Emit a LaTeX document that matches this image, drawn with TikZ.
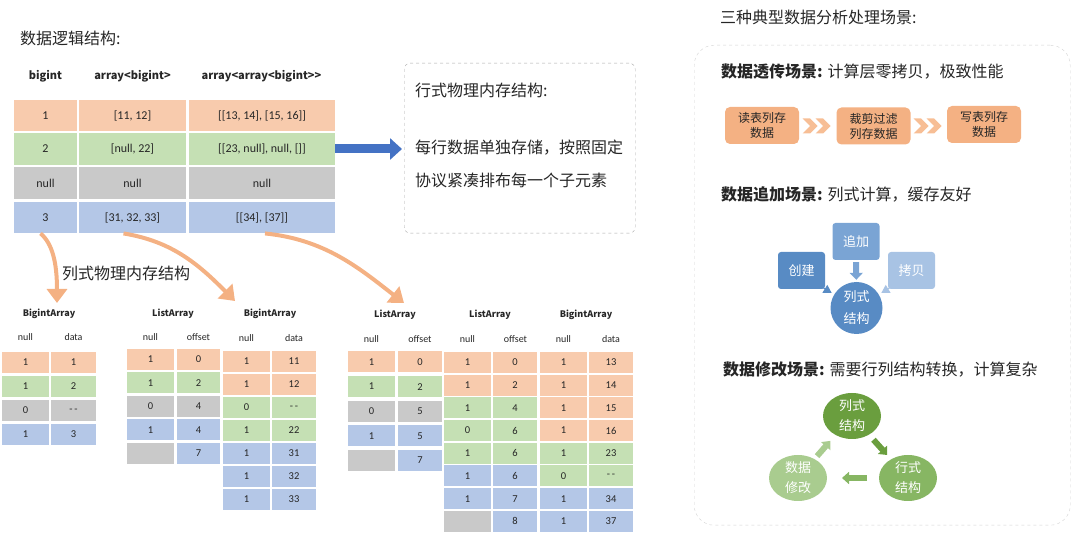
\documentclass[tikz,border=0pt]{standalone}
\usepackage{fontspec}
\setmainfont{Carlito}
\newfontfamily\cjk{Noto Sans CJK SC}
\usetikzlibrary{shapes, arrows.meta, positioning, calc}

\definecolor{cor}{HTML}{F8CBAD}
\definecolor{cgr}{HTML}{C5E0B4}
\definecolor{cgy}{HTML}{C9C9C9}
\definecolor{cbl}{HTML}{B4C7E7}
\definecolor{carr}{HTML}{F4B183}
\definecolor{cblue}{HTML}{4472C4}
\definecolor{cdash}{HTML}{A6A6A6}
\definecolor{cobox}{HTML}{F4B183}
\definecolor{cchev}{HTML}{F7BE95}
\definecolor{cb1}{HTML}{588BC4}
\definecolor{cb2}{HTML}{7AA4D4}
\definecolor{cb3}{HTML}{A8C3E4}
\definecolor{cg1}{HTML}{6A9E3E}
\definecolor{cg2}{HTML}{87B663}
\definecolor{cg3}{HTML}{A9CC8F}
\newcommand{\dsh}{-\,-}

\begin{document}
\begin{tikzpicture}[x=1pt, y=-1pt, text=black!85,
	txt/.style={font=\cjk\fontsize{16}{19}\selectfont, inner sep=0pt, anchor=west},
	hdr/.style={font=\cjk\bfseries\fontsize{11}{13}\selectfont, inner sep=0pt},
	big/.style={inner sep=0pt, minimum height=31.5, font=\fontsize{12}{14}\selectfont},
	cell/.style={inner sep=0pt, minimum height=21, font=\fontsize{10.5}{12}\selectfont},
	ttl/.style={font=\cjk\bfseries\fontsize{9}{11}\selectfont, inner sep=0pt},
	sub/.style={font=\fontsize{10}{12}\selectfont, inner sep=0pt},
	oarr/.style={carr, line width=4, -{Triangle[length=14pt, width=20pt]}},
	obox/.style={fill=cobox, rounded corners=5, minimum width=74, minimum height=37, align=center, font=\cjk\fontsize{12}{15}\selectfont},
	chev/.style={signal, signal from=west, signal to=east, fill=cchev, inner sep=0pt, minimum width=13, minimum height=15},
	bbox/.style={rounded corners=3, minimum width=47, minimum height=37, text=white, font=\cjk\fontsize{13}{16}\selectfont},
	barr/.style={line width=6, -{Triangle[length=7pt, width=13pt]}},
	gell/.style={ellipse, inner sep=0pt, minimum width=58, minimum height=46, text=white, align=center, font=\cjk\fontsize{13}{20}\selectfont},
	garr/.style={line width=6, -{Triangle[length=7pt, width=12pt]}}]
	\useasboundingbox (0,0) rectangle (1080,534);

	% logical structure
	\node[txt] (ltitle) at (20,38) {数据逻辑结构:};
	\node[hdr] (h1) at (45.5,76) {bigint};
	\node[hdr] (h2) at (132.5,76) {array<bigint>};
	\node[hdr] (h3) at (261.5,76) {array<array<bigint>>};
	\foreach \y/\c/\va/\vb/\vc [count=\i] in {115.5/cor/1/{[11, 12]}/{[[13, 14], [15, 16]]}, 149/cgr/2/{[null, 22]}/{[[23, null], null, []]}, 183/cgy/null/null/null, 217.5/cbl/3/{[31, 32, 33]}/{[[34], [37]]}} {
		\node[big, fill=\c, minimum width=63] (ta\i) at (45.5,\y) {\va};
		\node[big, fill=\c, minimum width=107] (tb\i) at (132.5,\y) {\vb};
		\node[big, fill=\c, minimum width=146] (tc\i) at (262,\y) {\vc};
	}

	% row layout
	\node[draw=cdash, dashed, rounded corners=6, minimum width=231, minimum height=170, anchor=north west] (rowbox) at (404,63) {};
	\node[txt] (rowttl) at (415,90) {行式物理内存结构:};
	\node[txt] (rowl1) at (415,148) {每行数据单独存储，按照固定};
	\node[txt] (rowl2) at (415,180) {协议紧凑排布每一个子元素};
	\draw[cblue, line width=9, -{Triangle[length=12pt, width=21pt]}, shorten >=2] (tc2.east) -- (tc2.east -| rowbox.west);

	% column layout
	\coordinate (tip1) at (57,303);
	\coordinate (tip2) at (235,301);
	\coordinate (tip3) at (404,303);
	\draw[oarr] ([xshift=-5]ta4.south) .. controls +(12,10) and +(0,-40) .. (tip1);
	\draw[oarr] ([xshift=-9]tb4.south) .. controls +(50,8) and +(-35,-35) .. (tip2);
	\draw[oarr] ([xshift=3]tc4.south) .. controls +(60,6) and +(-45,-35) .. (tip3);
	\node[txt] (collbl) at (62,273) {列式物理内存结构};

	\node[ttl] (ba) at (49,314) {BigintArray};
	\node[sub] (ban) at (25.5,337) {null};
	\node[sub] (bad) at (73.5,337) {data};
	\foreach \c/\n/\v [count=\i] in {cor/1/1, cgr/1/2, cgy/0/\dsh, cbl/1/3} {
		\node[cell, fill=\c, minimum width=47] (ba\i n) at (25.5,{362.5+(\i-1)*24}) {\n};
		\node[cell, fill=\c, minimum width=45] (ba\i v) at (73.5,{362.5+(\i-1)*24}) {\v};
	}

	\node[ttl] (la) at (173,314) {ListArray};
	\node[sub] (lan) at (150.5,337) {null};
	\node[sub] (lao) at (198.5,337) {offset};
	\foreach \c/\d/\n/\v [count=\i] in {cor/cor/1/0, cgr/cgr/1/2, cgy/cgy/0/4, cbl/cbl/1/4, cgy/cbl/{}/7} {
		\node[cell, fill=\c, minimum width=47] (la\i n) at (150.5,{359.5+(\i-1)*23.5}) {\n};
		\node[cell, fill=\d, minimum width=43] (la\i v) at (198.5,{359.5+(\i-1)*23.5}) {\v};
	}

	\node[ttl] (bb) at (270,314) {BigintArray};
	\node[sub] (bbn) at (246.5,338) {null};
	\node[sub] (bbd) at (294,338) {data};
	\foreach \c/\n/\v [count=\i] in {cor/1/11, cor/1/12, cgr/0/\dsh, cgr/1/22, cbl/1/31, cbl/1/32, cbl/1/33} {
		\node[cell, fill=\c, minimum width=47] (bb\i n) at (246.5,{361.5+(\i-1)*23}) {\n};
		\node[cell, fill=\c, minimum width=44] (bb\i v) at (294,{361.5+(\i-1)*23}) {\v};
	}

	\node[ttl] (lb) at (395,315) {ListArray};
	\node[sub] (lbn) at (371.5,339) {null};
	\node[sub] (lbo) at (420,339) {offset};
	\foreach \c/\d/\n/\v [count=\i] in {cor/cor/1/0, cgr/cgr/1/2, cgy/cgy/0/5, cbl/cbl/1/5, cgy/cbl/{}/7} {
		\node[cell, fill=\c, minimum width=47] (lb\i n) at (371.5,{362+(\i-1)*24.6}) {\n};
		\node[cell, fill=\d, minimum width=44] (lb\i v) at (420,{362+(\i-1)*24.6}) {\v};
	}

	\node[ttl] (lc) at (490,315) {ListArray};
	\node[sub] (lcn) at (467.5,339) {null};
	\node[sub] (lco) at (515.5,339) {offset};
	\foreach \c/\d/\n/\v [count=\i] in {cor/cor/1/0, cor/cor/1/2, cgr/cgr/1/4, cgr/cgr/0/6, cgr/cgr/1/6, cbl/cbl/1/6, cbl/cbl/1/7, cgy/cbl/{}/8} {
		\node[cell, fill=\c, minimum width=47] (lc\i n) at (467.5,{362.5+(\i-1)*22.7}) {\n};
		\node[cell, fill=\d, minimum width=44] (lc\i v) at (515,{362.5+(\i-1)*22.7}) {\v};
	}

	\node[ttl] (bc) at (586,315) {BigintArray};
	\node[sub] (bcn) at (563.5,339) {null};
	\node[sub] (bcd) at (611,339) {data};
	\foreach \c/\n/\v [count=\i] in {cor/1/13, cor/1/14, cor/1/15, cor/1/16, cgr/1/23, cgr/0/\dsh, cbl/1/34, cbl/1/37} {
		\node[cell, fill=\c, minimum width=47] (bc\i n) at (563.5,{362.5+(\i-1)*22.7}) {\n};
		\node[cell, fill=\c, minimum width=44] (bc\i v) at (611,{362.5+(\i-1)*22.7}) {\v};
	}

	% scenarios
	\node[txt] (rtitle) at (720,17) {三种典型数据分析处理场景:};
	\node[draw=cdash!50, dashed, rounded corners=20, minimum width=376, minimum height=480, anchor=north west] (panel) at (694,45) {};

	\node[txt] (s1) at (721,72) {\bfseries 数据透传场景: \mdseries 计算层零拷贝，极致性能};
	\node[obox] (rd) at (762,125.5) {读表列存\\数据};
	\node[obox] (cut) at (873.5,126) {裁剪过滤\\列存数据};
	\node[obox] (wr) at (984,124.5) {写表列存\\数据};
	\node[chev] (ch1) at (810,126) {};
	\node[chev] (ch2) at (823,126) {};
	\node[chev] (ch3) at (921,126) {};
	\node[chev] (ch4) at (934,126) {};

	\node[txt] (s2) at (721,194) {\bfseries 数据追加场景: \mdseries 列式计算，缓存友好};
	\node[bbox, fill=cb2] (add) at (856,241.5) {追加};
	\node[bbox, fill=cb1] (mk) at (801.5,270.5) {创建};
	\node[bbox, fill=cb3] (cp) at (911.5,270.5) {拷贝};
	\node[circle, fill=cb1, minimum size=52, inner sep=0pt, text=white, align=center, font=\cjk\fontsize{13}{22}\selectfont] (col) at (856.5,308) {列式\\结构};
	\draw[barr, cb2, shorten <=2, shorten >=2] (add) -- (col);
	\draw[cb1, line width=1, -{Triangle[length=8pt, width=9pt]}, shorten >=29] ([shift={(-3,-2)}]mk.south east) -- (col.center);
	\draw[cb3, line width=1, -{Triangle[length=8pt, width=9pt]}, shorten >=29] ([shift={(3,-2)}]cp.south west) -- (col.center);

	\node[txt] (s3) at (723,370) {\bfseries 数据修改场景: \mdseries 需要行列结构转换，计算复杂};
	\node[gell, fill=cg1] (gcol) at (852,416) {列式\\结构};
	\node[gell, fill=cg2] (grow) at (908,478) {行式\\结构};
	\node[gell, fill=cg3] (gmod) at (798,478) {数据\\修改};
	\draw[garr, cg1, shorten <=32, shorten >=31] (gcol.center) -- (grow.center);
	\draw[garr, cg2, shorten <=41, shorten >=44] (grow.center) -- (gmod.center);
	\draw[garr, cg3, shorten <=29, shorten >=33] (gmod.center) -- (gcol.center);
\end{tikzpicture}
\end{document}
